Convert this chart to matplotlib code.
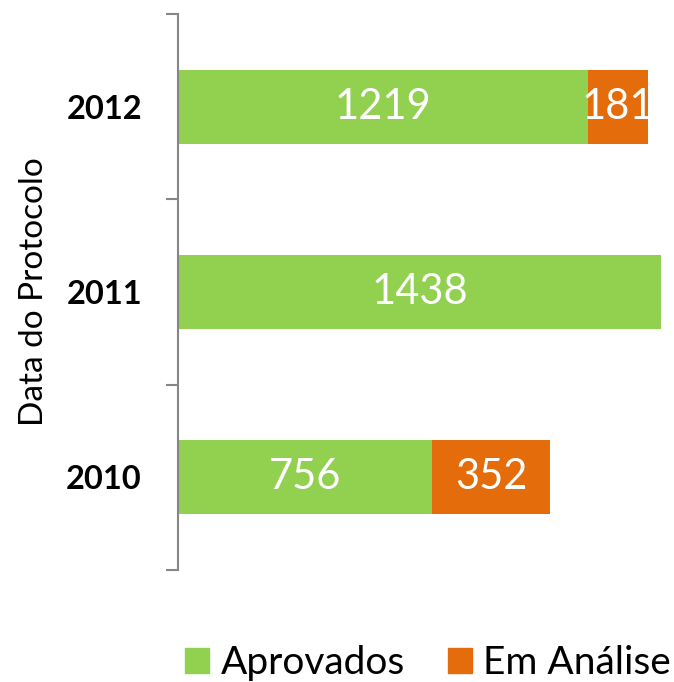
import matplotlib
matplotlib.use("Agg")
import matplotlib.pyplot as plt
from matplotlib.patches import Patch

categories = ["2010", "2011", "2012"]
aprovados = [756, 1438, 1219]
em_analise = [352, 0, 181]
series_names = ["Aprovados", "Em Análise"]
colors = ["#92D050", "#E46C0A"]

plt.rcParams['font.family'] = ['Lato', 'DejaVu Sans']

fig = plt.figure(figsize=(6.74, 6.82), dpi=100)
W, H = 674, 682
ax = fig.add_axes([178 / W, 1 - 570 / H, (674 - 178) / W, (570 - 14) / H])

y = list(range(len(categories)))
ax.barh(y, aprovados, height=0.4, color=colors[0], label=series_names[0])
ax.barh(y, em_analise, left=aprovados, height=0.4, color=colors[1], label=series_names[1])

for i in y:
    if aprovados[i] > 0:
        ax.text(aprovados[i] / 2, i, str(aprovados[i]), ha="center", va="center",
                color="white", fontsize=30)
    if em_analise[i] > 0:
        ax.text(aprovados[i] + em_analise[i] / 2, i, str(em_analise[i]), ha="center",
                va="center", color="white", fontsize=30)

ax.set_xlim(0, 1476)
ax.set_ylim(-0.5, 2.5)
for s in ["top", "right", "bottom"]:
    ax.spines[s].set_visible(False)
ax.spines["left"].set_color("#868686")
ax.spines["left"].set_linewidth(1.5)
ax.set_xticks([])
ax.set_yticks([-0.5, 0.5, 1.5, 2.5])
ax.set_yticklabels([])
ax.tick_params(axis="y", length=8.6, width=1.5, color="#868686")
ax.set_yticks(y, minor=True)
ax.set_yticklabels(categories, minor=True, fontsize=23.5, fontweight="bold")
ax.tick_params(axis="y", which="minor", length=0, pad=26)
ax.set_ylabel("Data do Protocolo", fontsize=24)
ax.yaxis.set_label_coords(-0.26, 0.5)

handles = [Patch(color=c) for c in colors]
fig.legend(handles, series_names, loc="center", bbox_to_anchor=(428 / W, 1 - 663 / H),
           ncol=2, frameon=False, fontsize=28, handlelength=0.62, handleheight=0.62,
           handletextpad=0.3, columnspacing=1.1, borderpad=0, borderaxespad=0)

fig.savefig("out.png", dpi=100)
